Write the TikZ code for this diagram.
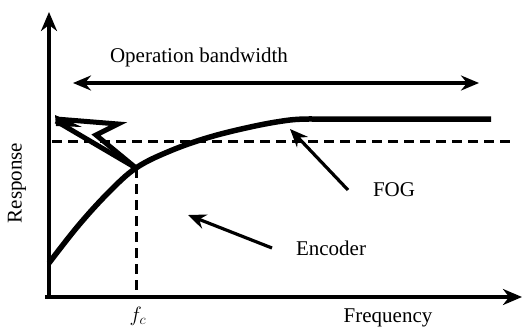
\documentclass[tikz,border=0pt]{standalone}
\usepackage{fontspec}
\setmainfont{Liberation Serif}
\usetikzlibrary{arrows.meta}
\begin{document}
\begin{tikzpicture}[x=1pt,y=-1pt,
  lbl/.style={font=\fontsize{21}{24}\selectfont, inner sep=0pt},
  axisline/.style={line width=3.8pt, -{Stealth[length=19pt,width=16pt,inset=6pt]}},
  pointer/.style={line width=3.2pt, -{Stealth[length=18pt,width=15pt,inset=6pt]}},
  curve/.style={line width=5.5pt, line join=round},
  guide/.style={line width=3pt, dash pattern=on 10pt off 6pt}]
\useasboundingbox (0,0) rectangle (524,329);
% axes
\coordinate (o) at (49,297);
\coordinate (ytop) at (49,12);
\coordinate (xleft) at (45,297);
\coordinate (xright) at (522,297);
\draw[axisline] (49,299) -- (ytop);
\draw[axisline] (xleft) -- (xright);
% bandwidth arrow
\coordinate (bwl) at (73,83);
\coordinate (bwr) at (479,83);
\draw[line width=3.2pt, {Stealth[length=18pt,width=15pt,inset=6pt]}-{Stealth[length=18pt,width=15pt,inset=6pt]}] (bwl) -- (bwr);
\node[lbl] (bw) at (199,57) {Operation bandwidth};
% dashed guides
\coordinate (dl) at (52,141);
\coordinate (dr) at (516,141);
\draw[guide] (dl) -- (dr);
\coordinate (fc) at (136,168);
\coordinate (fcb) at (136,297);
\draw[guide] (fc) -- (fcb);
% encoder curve
\draw[curve] plot[smooth, tension=0.6] coordinates {(49,263) (78,226) (108,193) (136,168) (170,151) (210,137) (255,126) (290,120) (312,119)} -- (491,119);
% FOG lightning
\draw[line width=5pt, line join=miter, line cap=butt] (56,119) -- (118,124) -- (96,135) -- (fc);
\draw[line width=5pt] (56,121) -- (fc);
\fill (55,115) -- (82,127) -- (56,126) -- cycle;
% labels and pointers
\node[lbl] (fog) at (394,190) {FOG};
\coordinate (fogtail) at (348,190);
\coordinate (fogtip) at (290,129);
\draw[pointer] (fogtail) -- (fogtip);
\node[lbl] (enc) at (331,248) {Encoder};
\coordinate (enctail) at (272,248);
\coordinate (enctip) at (188,215);
\draw[pointer] (enctail) -- (enctip);
\node[lbl, rotate=90] (resp) at (17,183) {Response};
\node[lbl] (freq) at (388,318) {Frequency};
\node[lbl] (fclbl) at (138,316) {$f_c$};
\end{tikzpicture}
\end{document}
